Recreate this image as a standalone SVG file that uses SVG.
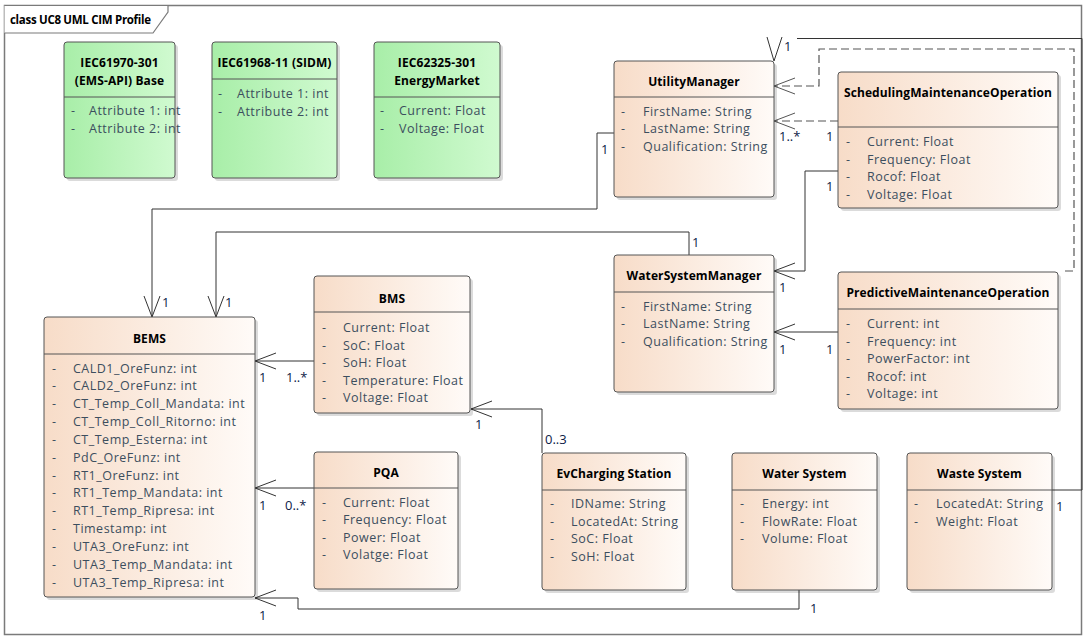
<svg xmlns="http://www.w3.org/2000/svg" width="1087" height="642" viewBox="0 0 1087 642">
<defs>
<linearGradient id="gOr" x1="0" y1="0" x2="1" y2="0">
<stop offset="0" stop-color="#f7dcc8"/>
<stop offset="1" stop-color="#fffbf8"/>
</linearGradient>
<linearGradient id="gGr" x1="0" y1="0" x2="1" y2="0">
<stop offset="0" stop-color="#a8eea8"/>
<stop offset="1" stop-color="#d0fad0"/>
</linearGradient>
<marker id="arr" markerUnits="userSpaceOnUse" viewBox="0 0 22 18" refX="21" refY="9" markerWidth="22" markerHeight="18" orient="auto">
<path d="M0,1 L21,9 L0,17" fill="none" stroke="#333" stroke-width="1"/>
</marker>
<marker id="arrG" markerUnits="userSpaceOnUse" viewBox="0 0 22 18" refX="21" refY="9" markerWidth="22" markerHeight="18" orient="auto">
<path d="M0,1 L21,9 L0,17" fill="none" stroke="#555" stroke-width="1"/>
</marker>
</defs>
<style>
.frame{fill:none;stroke:#7a7a7a;stroke-width:1.5}
.sh{fill:#000;opacity:0.14}
.box{fill:url(#gOr);stroke:#555;stroke-width:1}
.gbox{fill:url(#gGr);stroke:#555;stroke-width:1}
.sep{stroke:#555;stroke-width:1}
.title{font-family:"Open Sans","Liberation Sans",sans-serif;font-size:12px;font-weight:bold;fill:#000;text-anchor:middle;letter-spacing:0.1px}
.attr{font-family:"Open Sans","Liberation Sans",sans-serif;font-size:12.5px;fill:#3c4e5e;letter-spacing:0.5px}
.lbl{font-family:"Open Sans","Liberation Sans",sans-serif;font-size:13px;fill:#0d2147}
.con{fill:none;stroke:#333;stroke-width:1}
.dash{fill:none;stroke:#555;stroke-width:1.2;stroke-dasharray:8,4}
</style>
<rect x="0" y="0" width="1087" height="642" fill="#fff"/>
<g id="frame">
<rect class="frame" x="4.5" y="5.5" width="1077" height="629"/>
<path d="M4.5,5.5 H168 V12 L153,33 H4.5" fill="#fff" stroke="#7a7a7a" stroke-width="1.2"/>
<text x="10" y="24" font-family="'Open Sans','Liberation Sans',sans-serif" font-size="11.5px" font-weight="bold" letter-spacing="-0.3px" fill="#000">class UC8 UML CIM Profile</text>
</g>

<g id="connectors">
<path class="con" d="M614,133 H597 V209 H152 V317" marker-end="url(#arr)"/>
<path class="con" d="M689,255 V232 H216 V317" marker-end="url(#arr)"/>
<path class="con" d="M838,171 H805 V271 H774" marker-end="url(#arr)"/>
<path class="con" d="M838,332 H774" marker-end="url(#arr)"/>
<path class="con" d="M314,361 H255" marker-end="url(#arr)"/>
<path class="con" d="M542,453 V409 H471" marker-end="url(#arr)"/>
<path class="con" d="M314,488 H255" marker-end="url(#arr)"/>
<path class="con" d="M799,590 V609 H298 V598 H255" marker-end="url(#arr)"/>
<path class="con" d="M1052,490 H1082 V38.5 H797" stroke-width="1.5"/>
<path class="con" d="M767,37 L774,61 L782,37"/>
<path class="dash" d="M838,121 H774" marker-end="url(#arrG)"/>
<path class="dash" d="M1065,271 H1074 V49 H819 V86 H774" marker-end="url(#arrG)"/>
<text class="lbl" x="784" y="51">1</text>
<text class="lbl" x="779" y="141">1..*</text>
<text class="lbl" x="826" y="141">1</text>
<text class="lbl" x="601" y="154">1</text>
<text class="lbl" x="826" y="191">1</text>
<text class="lbl" x="692" y="247">1</text>
<text class="lbl" x="779" y="292">1</text>
<text class="lbl" x="779" y="354">1</text>
<text class="lbl" x="826" y="354">1</text>
<text class="lbl" x="162" y="307">1</text>
<text class="lbl" x="225" y="307">1</text>
<text class="lbl" x="259" y="382">1</text>
<text class="lbl" x="286" y="382">1..*</text>
<text class="lbl" x="259" y="510">1</text>
<text class="lbl" x="285" y="510">0..*</text>
<text class="lbl" x="475" y="429">1</text>
<text class="lbl" x="545" y="444">0..3</text>
<text class="lbl" x="259" y="620">1</text>
<text class="lbl" x="810" y="613">1</text>
<text class="lbl" x="1056" y="511">1</text>
</g>

<g id="iec61970">
<rect class="sh" x="67" y="45" width="111" height="136" rx="3"/>
<rect class="gbox" x="64" y="42" width="111" height="136" rx="3"/>
<line class="sep" x1="64" y1="97" x2="175" y2="97"/>
<text class="title" x="119.5" y="67">IEC61970-301</text>
<text class="title" x="119.5" y="85">(EMS-API) Base</text>
<text class="attr"><tspan x="71" y="115">-</tspan><tspan x="89">Attribute 1: int</tspan></text>
<text class="attr"><tspan x="71" y="133">-</tspan><tspan x="89">Attribute 2: int</tspan></text>
</g>

<g id="iec61968">
<rect class="sh" x="215" y="45" width="125" height="136" rx="3"/>
<rect class="gbox" x="212" y="42" width="125" height="136" rx="3"/>
<line class="sep" x1="212" y1="79" x2="337" y2="79"/>
<text class="title" x="274.5" y="67">IEC61968-11 (SIDM)</text>
<text class="attr"><tspan x="218" y="98">-</tspan><tspan x="237">Attribute 1: int</tspan></text>
<text class="attr"><tspan x="218" y="116">-</tspan><tspan x="237">Attribute 2: int</tspan></text>
</g>

<g id="iec62325">
<rect class="sh" x="377" y="45" width="126" height="136" rx="3"/>
<rect class="gbox" x="374" y="42" width="126" height="136" rx="3"/>
<line class="sep" x1="374" y1="97" x2="500" y2="97"/>
<text class="title" x="437" y="67">IEC62325-301</text>
<text class="title" x="437" y="85">EnergyMarket</text>
<text class="attr"><tspan x="380" y="115">-</tspan><tspan x="399">Current: Float</tspan></text>
<text class="attr"><tspan x="380" y="133">-</tspan><tspan x="399">Voltage: Float</tspan></text>
</g>

<g id="utilitymanager">
<rect class="sh" x="617" y="64" width="160" height="136" rx="3"/>
<rect class="box" x="614" y="61" width="160" height="136" rx="3"/>
<line class="sep" x1="614" y1="97" x2="774" y2="97"/>
<text class="title" x="694" y="86">UtilityManager</text>
<text class="attr"><tspan x="621" y="115.5">-</tspan><tspan x="643">FirstName: String</tspan></text>
<text class="attr"><tspan x="621" y="133">-</tspan><tspan x="643">LastName: String</tspan></text>
<text class="attr"><tspan x="621" y="150.5">-</tspan><tspan x="643">Qualification: String</tspan></text>
</g>

<g id="scheduling">
<rect class="sh" x="841" y="75" width="220" height="136" rx="3"/>
<rect class="box" x="838" y="72" width="220" height="136" rx="3"/>
<line class="sep" x1="838" y1="127" x2="1058" y2="127"/>
<text class="title" x="948" y="97">SchedulingMaintenanceOperation</text>
<text class="attr"><tspan x="846" y="146">-</tspan><tspan x="867">Current: Float</tspan></text>
<text class="attr"><tspan x="846" y="163.5">-</tspan><tspan x="867">Frequency: Float</tspan></text>
<text class="attr"><tspan x="846" y="181">-</tspan><tspan x="867">Rocof: Float</tspan></text>
<text class="attr"><tspan x="846" y="198.5">-</tspan><tspan x="867">Voltage: Float</tspan></text>
</g>

<g id="watersystemmanager">
<rect class="sh" x="617" y="258" width="160" height="137" rx="3"/>
<rect class="box" x="614" y="255" width="160" height="137" rx="3"/>
<line class="sep" x1="614" y1="292" x2="774" y2="292"/>
<text class="title" x="694" y="280">WaterSystemManager</text>
<text class="attr"><tspan x="621" y="310.5">-</tspan><tspan x="643">FirstName: String</tspan></text>
<text class="attr"><tspan x="621" y="328">-</tspan><tspan x="643">LastName: String</tspan></text>
<text class="attr"><tspan x="621" y="345.5">-</tspan><tspan x="643">Qualification: String</tspan></text>
</g>

<g id="predictive">
<rect class="sh" x="841" y="275" width="220" height="137" rx="3"/>
<rect class="box" x="838" y="272" width="220" height="137" rx="3"/>
<line class="sep" x1="838" y1="309" x2="1058" y2="309"/>
<text class="title" x="948" y="297">PredictiveMaintenanceOperation</text>
<text class="attr"><tspan x="846" y="328">-</tspan><tspan x="867">Current: int</tspan></text>
<text class="attr"><tspan x="846" y="345.5">-</tspan><tspan x="867">Frequency: int</tspan></text>
<text class="attr"><tspan x="846" y="363">-</tspan><tspan x="867">PowerFactor: int</tspan></text>
<text class="attr"><tspan x="846" y="380.5">-</tspan><tspan x="867">Rocof: int</tspan></text>
<text class="attr"><tspan x="846" y="398">-</tspan><tspan x="867">Voltage: int</tspan></text>
</g>

<g id="bems">
<rect class="sh" x="47" y="320" width="211" height="280" rx="3"/>
<rect class="box" x="44" y="317" width="211" height="280" rx="3"/>
<line class="sep" x1="44" y1="354" x2="255" y2="354"/>
<text class="title" x="149.5" y="343">BEMS</text>
<text class="attr"><tspan x="52" y="372.5">-</tspan><tspan x="73">CALD1_OreFunz: int</tspan></text>
<text class="attr"><tspan x="52" y="390.3">-</tspan><tspan x="73">CALD2_OreFunz: int</tspan></text>
<text class="attr"><tspan x="52" y="408.2">-</tspan><tspan x="73">CT_Temp_Coll_Mandata: int</tspan></text>
<text class="attr"><tspan x="52" y="426">-</tspan><tspan x="73">CT_Temp_Coll_Ritorno: int</tspan></text>
<text class="attr"><tspan x="52" y="443.8">-</tspan><tspan x="73">CT_Temp_Esterna: int</tspan></text>
<text class="attr"><tspan x="52" y="461.7">-</tspan><tspan x="73">PdC_OreFunz: int</tspan></text>
<text class="attr"><tspan x="52" y="479.5">-</tspan><tspan x="73">RT1_OreFunz: int</tspan></text>
<text class="attr"><tspan x="52" y="497.3">-</tspan><tspan x="73">RT1_Temp_Mandata: int</tspan></text>
<text class="attr"><tspan x="52" y="515.2">-</tspan><tspan x="73">RT1_Temp_Ripresa: int</tspan></text>
<text class="attr"><tspan x="52" y="533">-</tspan><tspan x="73">Timestamp: int</tspan></text>
<text class="attr"><tspan x="52" y="550.8">-</tspan><tspan x="73">UTA3_OreFunz: int</tspan></text>
<text class="attr"><tspan x="52" y="568.7">-</tspan><tspan x="73">UTA3_Temp_Mandata: int</tspan></text>
<text class="attr"><tspan x="52" y="586.5">-</tspan><tspan x="73">UTA3_Temp_Ripresa: int</tspan></text>
</g>

<g id="bms">
<rect class="sh" x="317" y="279" width="156" height="137" rx="3"/>
<rect class="box" x="314" y="276" width="156" height="137" rx="3"/>
<line class="sep" x1="314" y1="312" x2="470" y2="312"/>
<text class="title" x="392" y="303">BMS</text>
<text class="attr"><tspan x="322" y="332">-</tspan><tspan x="343">Current: Float</tspan></text>
<text class="attr"><tspan x="322" y="349.5">-</tspan><tspan x="343">SoC: Float</tspan></text>
<text class="attr"><tspan x="322" y="367">-</tspan><tspan x="343">SoH: Float</tspan></text>
<text class="attr"><tspan x="322" y="384.5">-</tspan><tspan x="343">Temperature: Float</tspan></text>
<text class="attr"><tspan x="322" y="402">-</tspan><tspan x="343">Voltage: Float</tspan></text>
</g>

<g id="pqa">
<rect class="sh" x="317" y="455" width="144" height="137" rx="3"/>
<rect class="box" x="314" y="452" width="144" height="137" rx="3"/>
<line class="sep" x1="314" y1="488" x2="458" y2="488"/>
<text class="title" x="386" y="477">PQA</text>
<text class="attr"><tspan x="322" y="506.5">-</tspan><tspan x="343">Current: Float</tspan></text>
<text class="attr"><tspan x="322" y="524">-</tspan><tspan x="343">Frequency: Float</tspan></text>
<text class="attr"><tspan x="322" y="541.5">-</tspan><tspan x="343">Power: Float</tspan></text>
<text class="attr"><tspan x="322" y="559">-</tspan><tspan x="343">Volatge: Float</tspan></text>
</g>

<g id="evcharging">
<rect class="sh" x="545" y="456" width="144" height="137" rx="3"/>
<rect class="box" x="542" y="453" width="144" height="137" rx="3"/>
<line class="sep" x1="542" y1="490" x2="686" y2="490"/>
<text class="title" x="614" y="478">EvCharging Station</text>
<text class="attr"><tspan x="550" y="508">-</tspan><tspan x="571">IDName: String</tspan></text>
<text class="attr"><tspan x="550" y="525.5">-</tspan><tspan x="571">LocatedAt: String</tspan></text>
<text class="attr"><tspan x="550" y="543">-</tspan><tspan x="571">SoC: Float</tspan></text>
<text class="attr"><tspan x="550" y="560.5">-</tspan><tspan x="571">SoH: Float</tspan></text>
</g>

<g id="watersystem">
<rect class="sh" x="735" y="456" width="145" height="137" rx="3"/>
<rect class="box" x="732" y="453" width="145" height="137" rx="3"/>
<line class="sep" x1="732" y1="490" x2="877" y2="490"/>
<text class="title" x="804.5" y="478">Water System</text>
<text class="attr"><tspan x="740" y="508">-</tspan><tspan x="762">Energy: int</tspan></text>
<text class="attr"><tspan x="740" y="525.5">-</tspan><tspan x="762">FlowRate: Float</tspan></text>
<text class="attr"><tspan x="740" y="543">-</tspan><tspan x="762">Volume: Float</tspan></text>
</g>

<g id="wastesystem">
<rect class="sh" x="910" y="456" width="145" height="137" rx="3"/>
<rect class="box" x="907" y="453" width="145" height="137" rx="3"/>
<line class="sep" x1="907" y1="490" x2="1052" y2="490"/>
<text class="title" x="979.5" y="478">Waste System</text>
<text class="attr"><tspan x="914" y="508">-</tspan><tspan x="936">LocatedAt: String</tspan></text>
<text class="attr"><tspan x="914" y="525.5">-</tspan><tspan x="936">Weight: Float</tspan></text>
</g>
</svg>
